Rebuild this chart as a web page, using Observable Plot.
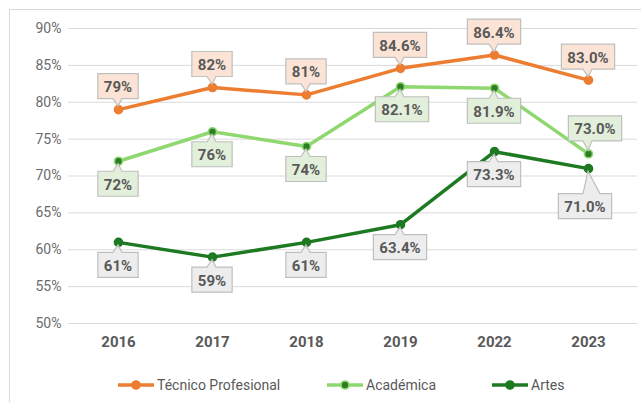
<!DOCTYPE html>
<html><head><meta charset="utf-8">
<script src="https://cdn.jsdelivr.net/npm/d3@7"></script>
<script src="https://cdn.jsdelivr.net/npm/@observablehq/plot@0.6"></script>
<style>
body{margin:0;background:#fff;font-family:Roboto,"Noto Sans",sans-serif;width:641px;height:402px;overflow:hidden;position:relative;}
#frame{position:absolute;left:9px;top:9px;width:700px;height:500px;border:1px solid #d9d9d9;box-sizing:border-box;}
#chart{position:absolute;left:0;top:0;}
#legend{position:absolute;left:0;top:362px;width:641px;height:40px;}
.li{position:absolute;top:14px;height:18px;display:flex;align-items:center;font-size:14px;color:#595959;white-space:nowrap;}
.li svg{display:block;margin-right:3px;}
</style></head><body>
<div id="frame"></div>
<div id="chart"></div>
<div id="legend"></div>
<script>
// ---- data ----
const years = ["2016", "2017", "2018", "2019", "2022", "2023"];
const seriesNames = ["Técnico Profesional", "Académica", "Artes"];
const tecnico = [79, 82, 81, 84.6, 86.4, 83.0];
const academica = [72, 76, 74, 82.1, 81.9, 73.0];
const artes = [61, 59, 61, 63.4, 73.3, 71.0];
const tecnicoLabels = ["79%", "82%", "81%", "84.6%", "86.4%", "83.0%"];
const academicaLabels = ["72%", "76%", "74%", "82.1%", "81.9%", "73.0%"];
const artesLabels = ["61%", "59%", "61%", "63.4%", "73.3%", "71.0%"];
const yTicks = [50, 55, 60, 65, 70, 75, 80, 85, 90];

// ---- build table ----
const valuesBySeries = [tecnico, academica, artes];
const labelsBySeries = [tecnicoLabels, academicaLabels, artesLabels];
const rows = [];
seriesNames.forEach((s, si) => years.forEach((yr, i) => rows.push({
  series: s, year: yr, value: valuesBySeries[si][i], label: labelsBySeries[si][i], si, i
})));

// ---- styles ----
const lineColor = {"Técnico Profesional": "#ED7D31", "Académica": "#8fd870", "Artes": "#1e7a22"};
const dotFill = {"Técnico Profesional": "#ED7D31", "Académica": "#2f7d25", "Artes": "#1e7a22"};
const dotStroke = {"Técnico Profesional": "#ED7D31", "Académica": "#8fd870", "Artes": "#1e7a22"};
const boxFill = {"Técnico Profesional": "#FBE4D5", "Académica": "#E2EFDA", "Artes": "#EDEDED"};

const marks = [
  Plot.gridY(yTicks, {stroke: "#d9d9d9", strokeOpacity: 1, strokeWidth: 1}),
  Plot.axisY(yTicks, {tickSize: 0, tickPadding: 7, tickFormat: d => d + "%", fontSize: 14, fill: "#6b6b6b", label: null}),
  Plot.axisX({tickSize: 0, tickPadding: 13, fontSize: 15, fontWeight: "bold", fill: "#595959", label: null})
];
seriesNames.forEach(s => {
  const d = rows.filter(r => r.series === s);
  marks.push(Plot.line(d, {x: "year", y: "value", stroke: lineColor[s], strokeWidth: 3.5}));
  marks.push(Plot.dot(d, {x: "year", y: "value", r: 4, fill: dotFill[s], stroke: dotStroke[s], strokeWidth: 1.6}));
});

const chart = Plot.plot({
  width: 641, height: 362,
  marginLeft: 68, marginRight: 4, marginTop: 28, marginBottom: 39,
  style: {fontFamily: "Roboto, 'Noto Sans', sans-serif", background: "transparent", overflow: "visible"},
  x: {type: "point", domain: years, padding: 0.5, label: null},
  y: {domain: [50, 90], label: null},
  marks
});
document.getElementById("chart").appendChild(chart);

// ---- callout labels (positioned through Plot's scales) ----
const sx = chart.scale("x"), sy = chart.scale("y");
// box center offsets (px) from the data point
function offset(r) {
  if (r.si === 0) return [0, -23];
  if (r.si === 1) return r.i === 5 ? [7, -25] : [r.i === 3 ? 2 : 0, 23];
  return r.i === 5 ? [-3, 38] : [0, 23];
}
const g = d3.select(chart).append("g").attr("class", "callouts");
const bh = 25;
rows.forEach(r => {
  const px = sx.apply(r.year), py = sy.apply(r.value);
  const [dx, dy] = offset(r);
  const cx = px + dx, cy = py + dy;
  const grp = g.append("g");
  const path = grp.append("path");
  const t = grp.append("text").attr("x", cx).attr("y", cy + 1)
    .attr("text-anchor", "middle").attr("dominant-baseline", "central")
    .attr("font-size", 15).attr("font-weight", "bold").attr("fill", "#595959")
    .attr("font-family", "Roboto, 'Noto Sans', sans-serif").text(r.label);
  const w = t.node().getComputedTextLength() + 12;
  const l = cx - w / 2, rr = cx + w / 2, top = cy - bh / 2, bot = cy + bh / 2;
  let d;
  if (cy > py) {
    const b1 = Math.max(l + 1, px - 5), b2 = Math.min(rr - 1, px + (Math.abs(dy) > 30 ? 12 : 4));
    d = `M${l},${top}L${b1},${top}L${px},${py + 3}L${b2},${top}L${rr},${top}L${rr},${bot}L${l},${bot}Z`;
  } else {
    const b1 = Math.max(l + 1, px - 5), b2 = Math.min(rr - 1, px + 4);
    d = `M${l},${top}L${rr},${top}L${rr},${bot}L${b2},${bot}L${px},${py - 3}L${b1},${bot}L${l},${bot}Z`;
  }
  path.attr("d", d).attr("fill", boxFill[r.series]).attr("stroke", "#bfbfbf").attr("stroke-width", 1.2);
});

// ---- legend ----
const legendLeft = {"Técnico Profesional": 118, "Académica": 327, "Artes": 492};
const lg = document.getElementById("legend");
seriesNames.forEach(s => {
  const div = document.createElement("div");
  div.className = "li";
  div.style.left = legendLeft[s] + "px";
  div.innerHTML = `<svg width="36" height="12"><line x1="0" x2="36" y1="6" y2="6" stroke="${lineColor[s]}" stroke-width="3.5"/><circle cx="18" cy="6" r="4" fill="${dotFill[s]}" stroke="${dotStroke[s]}" stroke-width="1.6"/></svg><span>${s}</span>`;
  lg.appendChild(div);
});
</script>
</body></html>
